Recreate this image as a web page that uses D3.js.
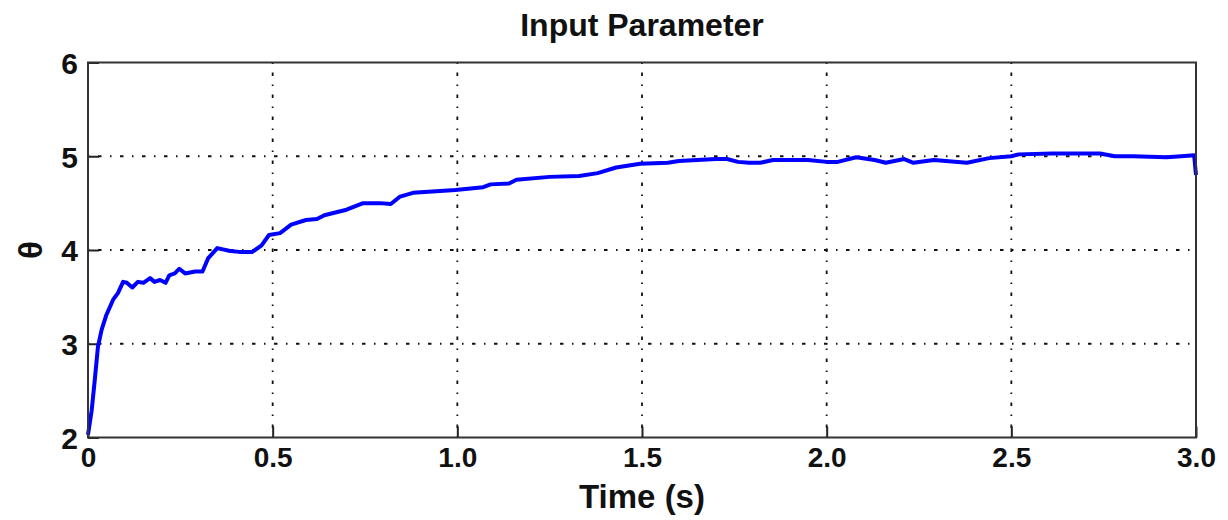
<!DOCTYPE html>
<html>
<head>
<meta charset="utf-8">
<script src="https://cdn.jsdelivr.net/npm/d3@7"></script>
<style>
  body { margin: 0; background: #fff; }
  text { font-family: 'Liberation Sans', Arial, sans-serif; font-weight: bold; fill: #111; }
</style>
</head>
<body>
<script>
// time axis (s) and theta values
const time = [0, 0.01, 0.019, 0.027, 0.037, 0.05, 0.068, 0.081, 0.095, 0.105, 0.12, 0.135, 0.15, 0.168, 0.18, 0.195, 0.21, 0.22, 0.235, 0.247, 0.263, 0.29, 0.31, 0.325, 0.35, 0.385, 0.41, 0.445, 0.47, 0.49, 0.52, 0.55, 0.59, 0.62, 0.64, 0.67, 0.70, 0.745, 0.79, 0.82, 0.845, 0.88, 0.995, 1.07, 1.09, 1.14, 1.16, 1.25, 1.33, 1.38, 1.43, 1.495, 1.57, 1.60, 1.70, 1.73, 1.76, 1.79, 1.82, 1.855, 1.95, 2.0, 2.03, 2.08, 2.13, 2.16, 2.21, 2.235, 2.29, 2.38, 2.44, 2.50, 2.52, 2.61, 2.74, 2.78, 2.83, 2.92, 2.96, 2.995, 3.0]
const theta = [2.03, 2.29, 2.64, 2.97, 3.15, 3.31, 3.47, 3.54, 3.66, 3.65, 3.6, 3.66, 3.65, 3.70, 3.66, 3.68, 3.65, 3.73, 3.75, 3.80, 3.75, 3.77, 3.77, 3.91, 4.02, 3.99, 3.98, 3.98, 4.05, 4.16, 4.18, 4.27, 4.32, 4.33, 4.37, 4.40, 4.43, 4.5, 4.5, 4.49, 4.57, 4.61, 4.64, 4.67, 4.70, 4.71, 4.75, 4.78, 4.79, 4.82, 4.88, 4.92, 4.93, 4.95, 4.97, 4.97, 4.94, 4.93, 4.93, 4.96, 4.96, 4.94, 4.94, 4.99, 4.96, 4.93, 4.97, 4.93, 4.96, 4.93, 4.98, 5.0, 5.02, 5.03, 5.03, 5.0, 5.0, 4.99, 5.0, 5.01, 4.8]

const xTicks = [0, 0.5, 1.0, 1.5, 2.0, 2.5, 3.0]
const xTickLabels = ['0', '0.5', '1.0', '1.5', '2.0', '2.5', '3.0']
const yTicks = [2, 3, 4, 5, 6]

const chartTitle = 'Input Parameter'
const xTitle = 'Time (s)'
const yTitle = 'θ'

const width = 1228
const height = 520
const margin = { left: 88, right: 32, top: 62.5, bottom: 82.5 }

const svg = d3.select('body')
  .append('svg')
  .attr('width', width)
  .attr('height', height)

const x = d3.scaleLinear().domain([0, 3]).range([margin.left, width - margin.right])
const y = d3.scaleLinear().domain([2, 6]).range([height - margin.bottom, margin.top])

// grid lines (interior ticks only)
const grid = svg.append('g')
  .attr('stroke', '#111')
  .attr('stroke-width', 1.8)
  .attr('stroke-dasharray', '1.5,8.5,3.5,8.5')

grid.selectAll('.vgrid')
  .data(xTicks.slice(1, -1))
  .enter()
  .append('line')
  .attr('x1', d => x(d)).attr('x2', d => x(d))
  .attr('y1', y(6)).attr('y2', y(2))

grid.selectAll('.hgrid')
  .data(yTicks.slice(1, -1))
  .enter()
  .append('line')
  .attr('x1', x(0)).attr('x2', x(3))
  .attr('y1', d => y(d)).attr('y2', d => y(d))

// axes with inward ticks
const xAxis = d3.axisBottom(x)
  .tickValues(xTicks)
  .tickFormat((d, i) => xTickLabels[i])
  .tickSizeInner(-11)
  .tickSizeOuter(0)
  .tickPadding(24)

const yAxis = d3.axisLeft(y)
  .tickValues(yTicks)
  .tickFormat(d3.format('d'))
  .tickSizeInner(-11)
  .tickSizeOuter(0)
  .tickPadding(10)

const gx = svg.append('g')
  .attr('transform', 'translate(0,' + y(2) + ')')
  .call(xAxis)
gx.select('.domain').remove()
gx.selectAll('.tick line').attr('stroke', '#222').attr('stroke-width', 2)
gx.selectAll('.tick text').attr('font-size', 28).attr('fill', '#111').attr('dy', '0.2em')

const gy = svg.append('g')
  .attr('transform', 'translate(' + x(0) + ',0)')
  .call(yAxis)
gy.select('.domain').remove()
gy.selectAll('.tick line').attr('stroke', '#222').attr('stroke-width', 2)
gy.selectAll('.tick text').attr('font-size', 30).attr('fill', '#111').attr('dy', '0.36em')

// data line
const line = d3.line()
  .x((d, i) => x(time[i]))
  .y(d => y(d))

svg.append('path')
  .datum(theta)
  .attr('d', line)
  .attr('fill', 'none')
  .attr('stroke', '#0000ff')
  .attr('stroke-width', 4)
  .attr('stroke-linejoin', 'round')

// axes box
svg.append('rect')
  .attr('x', x(0))
  .attr('y', y(6))
  .attr('width', x(3) - x(0))
  .attr('height', y(2) - y(6))
  .attr('fill', 'none')
  .attr('stroke', '#333')
  .attr('stroke-width', 2)

// titles
svg.append('text')
  .attr('x', (x(0) + x(3)) / 2)
  .attr('y', 36)
  .attr('text-anchor', 'middle')
  .attr('font-size', 32)
  .text(chartTitle)

svg.append('text')
  .attr('x', (x(0) + x(3)) / 2)
  .attr('y', 508)
  .attr('text-anchor', 'middle')
  .attr('font-size', 33)
  .text(xTitle)

svg.append('text')
  .attr('transform', 'translate(42,' + (y(2) + y(6)) / 2 + ') rotate(-90)')
  .attr('text-anchor', 'middle')
  .attr('font-size', 33)
  .text(yTitle)
</script>
</body>
</html>
